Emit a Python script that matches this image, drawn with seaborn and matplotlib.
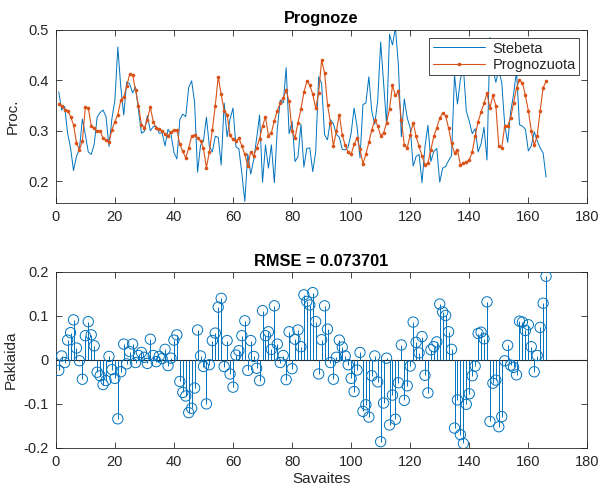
import numpy as np
import pandas as pd
import matplotlib
matplotlib.use("Agg")
import matplotlib.pyplot as plt
import seaborn as sns

prognozuota = [0.353, 0.350, 0.342, 0.340, 0.328, 0.312, 0.276, 0.262, 0.279, 0.347,
               0.345, 0.310, 0.305, 0.299, 0.300, 0.285, 0.281, 0.277, 0.302, 0.318,
               0.332, 0.360, 0.367, 0.388, 0.412, 0.411, 0.381, 0.350, 0.312, 0.305,
               0.322, 0.347, 0.318, 0.305, 0.303, 0.299, 0.294, 0.290, 0.297, 0.302,
               0.301, 0.273, 0.259, 0.246, 0.266, 0.289, 0.292, 0.286, 0.280, 0.265,
               0.227, 0.258, 0.302, 0.350, 0.407, 0.372, 0.340, 0.332, 0.291, 0.283,
               0.279, 0.285, 0.270, 0.253, 0.230, 0.258, 0.250, 0.266, 0.284, 0.310,
               0.327, 0.290, 0.296, 0.320, 0.340, 0.355, 0.365, 0.380, 0.358, 0.299,
               0.286, 0.316, 0.343, 0.376, 0.398, 0.391, 0.372, 0.345, 0.375, 0.440,
               0.415, 0.352, 0.316, 0.270, 0.299, 0.332, 0.292, 0.271, 0.257, 0.253,
               0.273, 0.286, 0.263, 0.235, 0.253, 0.277, 0.302, 0.322, 0.310, 0.290,
               0.296, 0.316, 0.343, 0.390, 0.370, 0.378, 0.322, 0.271, 0.266, 0.292,
               0.316, 0.289, 0.269, 0.250, 0.233, 0.236, 0.262, 0.289, 0.306, 0.325,
               0.335, 0.330, 0.305, 0.275, 0.256, 0.262, 0.232, 0.236, 0.238, 0.242,
               0.258, 0.290, 0.318, 0.337, 0.355, 0.374, 0.345, 0.370, 0.350, 0.269,
               0.266, 0.310, 0.310, 0.325, 0.355, 0.385, 0.400, 0.395, 0.370, 0.340,
               0.300, 0.271, 0.290, 0.340, 0.385, 0.398]

stebeta = [0.377, 0.341, 0.348, 0.295, 0.266, 0.221, 0.249, 0.264, 0.323, 0.292,
           0.258, 0.253, 0.273, 0.327, 0.336, 0.341, 0.328, 0.269, 0.324, 0.360,
           0.466, 0.387, 0.331, 0.397, 0.393, 0.375, 0.387, 0.340, 0.295, 0.299,
           0.330, 0.300, 0.308, 0.309, 0.295, 0.296, 0.270, 0.303, 0.293, 0.257,
           0.244, 0.322, 0.333, 0.328, 0.386, 0.399, 0.356, 0.218, 0.271, 0.280,
           0.327, 0.269, 0.258, 0.289, 0.287, 0.232, 0.355, 0.288, 0.323, 0.345,
           0.268, 0.264, 0.215, 0.160, 0.254, 0.214, 0.242, 0.285, 0.331, 0.198,
           0.272, 0.226, 0.272, 0.197, 0.304, 0.361, 0.355, 0.425, 0.294, 0.319,
           0.239, 0.248, 0.313, 0.228, 0.265, 0.266, 0.219, 0.258, 0.407, 0.394,
           0.292, 0.282, 0.322, 0.314, 0.293, 0.287, 0.263, 0.262, 0.268, 0.295,
           0.345, 0.309, 0.246, 0.352, 0.355, 0.407, 0.338, 0.313, 0.360, 0.476,
           0.394, 0.312, 0.491, 0.470, 0.505, 0.430, 0.288, 0.363, 0.325, 0.306,
           0.230, 0.249, 0.253, 0.197, 0.268, 0.311, 0.239, 0.259, 0.265, 0.198,
           0.226, 0.229, 0.241, 0.251, 0.411, 0.353, 0.402, 0.426, 0.339, 0.319,
           0.294, 0.304, 0.258, 0.274, 0.307, 0.242, 0.485, 0.423, 0.396, 0.421,
           0.395, 0.312, 0.277, 0.337, 0.372, 0.419, 0.312, 0.309, 0.303, 0.260,
           0.270, 0.298, 0.280, 0.266, 0.256, 0.208]

paklaida = [-0.024, 0.009, -0.006, 0.045, 0.062, 0.091, 0.027, -0.002, -0.044, 0.055,
            0.087, 0.057, 0.032, -0.028, -0.036, -0.056, -0.047, 0.008, -0.022, -0.042,
            -0.134, -0.027, 0.036, -0.009, 0.019, 0.036, -0.006, 0.010, 0.017, 0.006,
            -0.008, 0.047, 0.010, -0.004, 0.008, 0.003, 0.024, -0.013, 0.004, 0.045,
            0.057, -0.049, -0.074, -0.082, -0.120, -0.110, -0.064, 0.068, 0.009, -0.015,
            -0.100, -0.011, 0.044, 0.061, 0.120, 0.140, -0.015, 0.044, -0.032, -0.062,
            0.011, 0.021, 0.055, 0.089, -0.024, 0.044, 0.008, -0.019, -0.047, 0.112,
            0.055, 0.064, 0.024, 0.123, 0.036, -0.006, 0.010, -0.045, 0.064, -0.020,
            0.047, 0.068, 0.030, 0.148, 0.133, 0.125, 0.153, 0.087, -0.032, 0.046,
            0.123, 0.070, -0.006, -0.044, 0.006, 0.045, 0.029, 0.009, -0.011, -0.042,
            -0.072, -0.023, 0.017, -0.117, -0.102, -0.130, -0.036, 0.009, -0.050, -0.186,
            -0.098, 0.004, -0.148, -0.080, -0.135, -0.052, 0.034, -0.092, -0.059, -0.014,
            0.086, 0.040, 0.016, 0.053, -0.035, -0.075, 0.023, 0.030, 0.041, 0.127,
            0.109, 0.101, 0.064, 0.024, -0.155, -0.091, -0.170, -0.190, -0.101, -0.077,
            -0.036, -0.014, 0.060, 0.063, 0.048, 0.132, -0.140, -0.053, -0.046, -0.152,
            -0.129, -0.002, 0.033, -0.012, -0.017, -0.034, 0.088, 0.086, 0.067, 0.080,
            0.030, -0.027, 0.010, 0.074, 0.129, 0.190]

savaites = list(range(1, len(prognozuota) + 1))
x_ticks = list(range(0, 181, 20))
y1_ticks = [0.2, 0.3, 0.4, 0.5]
y1_labels = ["0.2", "0.3", "0.4", "0.5"]
y2_ticks = [-0.2, -0.1, 0, 0.1, 0.2]
y2_labels = ["-0.2", "-0.1", "0", "0.1", "0.2"]

sns.set_theme(style="white")
plt.rcParams["font.family"] = ["Liberation Sans", "DejaVu Sans"]
plt.rcParams["axes.unicode_minus"] = False

BLUE = "#0072BD"
ORANGE = "#D95319"
AX = "#262626"

fig = plt.figure(figsize=(6.0, 4.9), dpi=100)
ax1 = fig.add_axes([0.093, 0.586, 0.886, 0.353])
ax2 = fig.add_axes([0.093, 0.086, 0.886, 0.359])

df = pd.DataFrame({"x": savaites, "Stebeta": stebeta, "Prognozuota": prognozuota})
sns.lineplot(data=df, x="x", y="Stebeta", ax=ax1, color=BLUE, lw=0.7, label="Stebeta")
sns.lineplot(data=df, x="x", y="Prognozuota", ax=ax1, color=ORANGE, lw=0.8,
             marker="o", markersize=2.6, markeredgewidth=0, label="Prognozuota")
ax1.set_xlim(0, 180)
ax1.set_ylim(0.157, 0.5)
ax1.set_xticks(x_ticks)
ax1.set_yticks(y1_ticks)
ax1.set_yticklabels(y1_labels)
ax1.set_xlabel("")
ax1.set_ylabel("Proc.", fontsize=11, color=AX, labelpad=6)
ax1.set_title("Prognoze", fontsize=11.8, fontweight="bold", color="black", pad=5)
leg = ax1.legend(loc="upper right", fontsize=10.5, frameon=True, fancybox=False,
                 edgecolor=AX, framealpha=1, borderpad=0.25, handlelength=3.6,
                 handletextpad=0.5, labelspacing=0.15, borderaxespad=0.55)
leg.get_frame().set_linewidth(0.6)

dfe = pd.DataFrame({"x": savaites, "e": paklaida})
ax2.axhline(0, color=AX, lw=0.8, zorder=1)
ax2.vlines(dfe["x"], 0, dfe["e"], color=BLUE, lw=0.7, zorder=2)
sns.scatterplot(data=dfe, x="x", y="e", ax=ax2, s=55, marker="o",
                facecolors="none", edgecolor=BLUE, linewidth=0.7, zorder=3)
ax2.set_xlim(0, 180)
ax2.set_ylim(-0.2, 0.2)
ax2.set_xticks(x_ticks)
ax2.set_yticks(y2_ticks)
ax2.set_yticklabels(y2_labels)
ax2.set_xlabel("Savaites", fontsize=11, color=AX, labelpad=2)
ax2.set_ylabel("Paklaida", fontsize=11, color=AX)
ax2.set_title("RMSE = 0.073701", fontsize=11.8, fontweight="bold", color="black", pad=4)

for ax in (ax1, ax2):
    for s in ax.spines.values():
        s.set_visible(True)
        s.set_color(AX)
        s.set_linewidth(0.6)
    ax.tick_params(direction="in", length=4, width=0.6, colors=AX, labelsize=10.5,
                   top=True, right=True, bottom=True, left=True, pad=5)
    ax.set_facecolor("white")

fig.savefig("out.png", dpi=100, facecolor="white")
